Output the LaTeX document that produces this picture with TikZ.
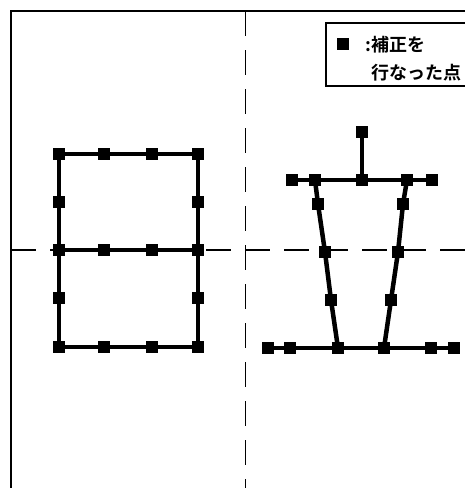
\documentclass[tikz,border=0pt]{standalone}
\usepackage{fontspec}
\newfontfamily\jp{Noto Sans CJK JP Bold}
\tikzset{
  sq/.style={rectangle, fill=black, minimum size=12pt, inner sep=0pt},
  bar/.style={line width=4.5pt},
  axis/.style={line width=1.2pt, dash pattern=on 25pt off 14pt},
  frame/.style={line width=1.3pt},
  legtext/.style={anchor=west, inner sep=0pt, font=\jp\fontsize{18pt}{21pt}\selectfont},
}
\begin{document}
\begin{tikzpicture}[x=1pt,y=-1pt]
\useasboundingbox (0,0) rectangle (465,488);
% frame
\draw[frame] (11,488) -- (11,11) -- (470,11);
% axes
\coordinate (vt) at (245.5,11);
\coordinate (vb) at (245.5,492);
\coordinate (hl) at (11,250);
\coordinate (hr) at (470,250);
\draw[axis] (vt) -- (vb);
\draw[axis] (hl) -- (hr);
% legend
\draw[frame, fill=white] (326,23) rectangle (470,86);
\node[sq, minimum size=12pt] (lsq) at (343,44) {};
\node[legtext] (l1) at (365,45) {:補正を};
\node[legtext] (l2) at (371,73) {行なった点};
% left figure
\foreach \i/\x in {1/59,2/104,3/152,4/198}{
  \node[sq] (t\i) at (\x,154) {};
  \node[sq] (m\i) at (\x,250) {};
  \node[sq] (b\i) at (\x,347) {};
}
\node[sq] (l1u) at (59,202) {};
\node[sq] (l1d) at (59,298) {};
\node[sq] (r1u) at (198,202) {};
\node[sq] (r1d) at (198,298) {};
\draw[bar] (t1) -- (t2) -- (t3) -- (t4);
\draw[bar] (m1) -- (m2) -- (m3) -- (m4);
\draw[bar] (b1) -- (b2) -- (b3) -- (b4);
\draw[bar] (t1) -- (l1u) -- (m1) -- (l1d) -- (b1);
\draw[bar] (t4) -- (r1u) -- (m4) -- (r1d) -- (b4);
% right figure
\node[sq] (st) at (362,132) {};
\node[sq] (a1) at (292,180) {};
\node[sq] (a2) at (315,180) {};
\node[sq] (a3) at (362,180) {};
\node[sq] (a4) at (407,180) {};
\node[sq] (a5) at (432,180) {};
\node[sq] (p1) at (318,204) {};
\node[sq] (p2) at (325,252) {};
\node[sq] (p3) at (331,300) {};
\node[sq] (q1) at (403,204) {};
\node[sq] (q2) at (398,252) {};
\node[sq] (q3) at (391,300) {};
\node[sq] (c1) at (268,348) {};
\node[sq] (c2) at (290,348) {};
\node[sq] (c3) at (338,348) {};
\node[sq] (c4) at (384,348) {};
\node[sq] (c5) at (431,348) {};
\node[sq] (c6) at (454,348) {};
\draw[bar] (st) -- (a3);
\draw[bar] (a1) -- (a2) -- (a3) -- (a4) -- (a5);
\draw[bar] (a2.center) -- (p1.center) -- (p2.center) -- (p3.center) -- (c3.center);
\draw[bar] (a4.center) -- (q1.center) -- (q2.center) -- (q3.center) -- (c4.center);
\draw[bar] (c1) -- (c2) -- (c3) -- (c4) -- (c5) -- (c6);
\end{tikzpicture}
\end{document}
